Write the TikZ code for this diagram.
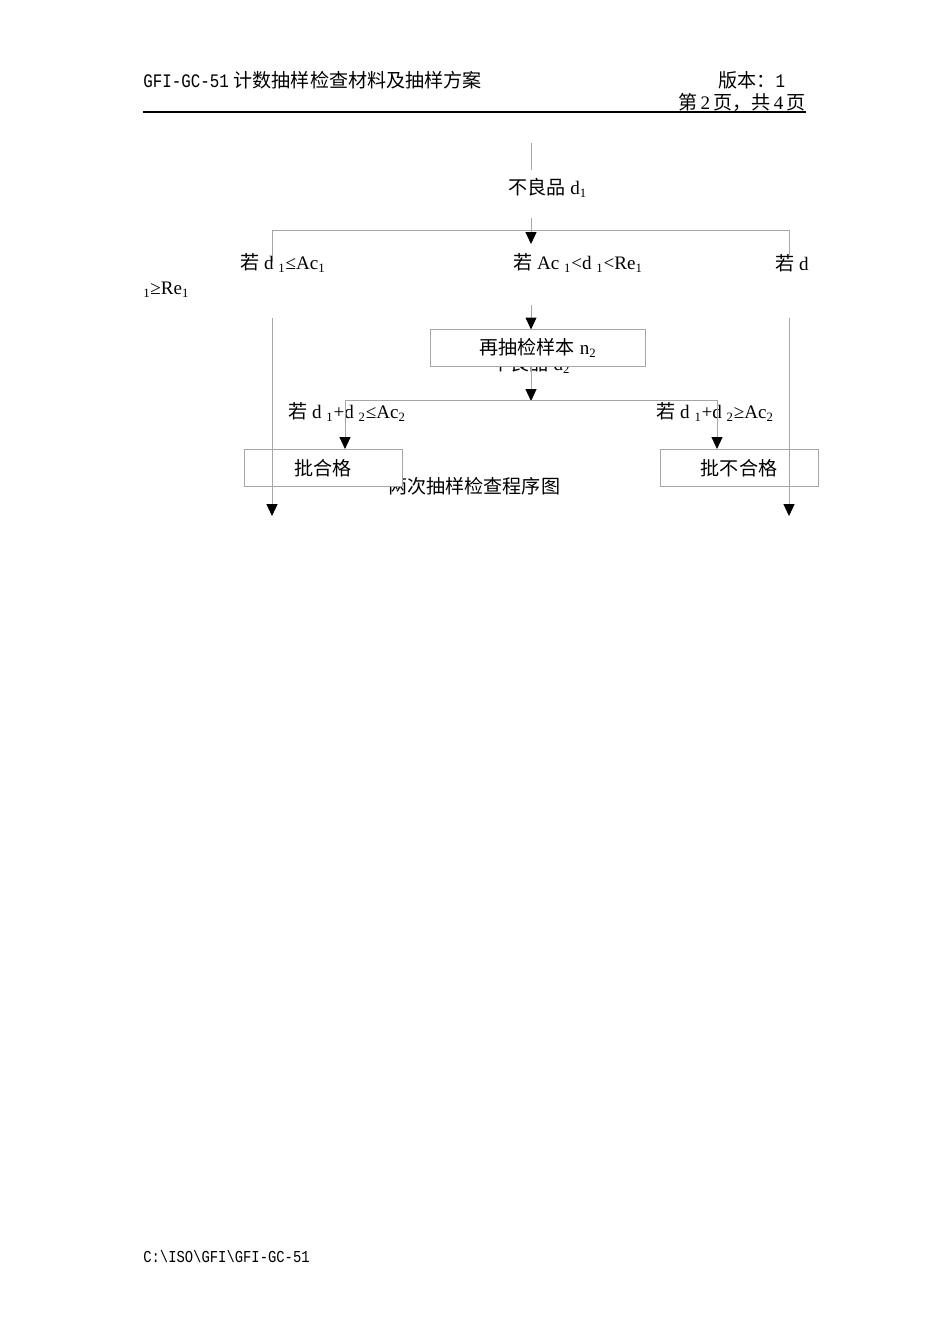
\documentclass[tikz,border=0pt]{standalone}
\usepackage{fontspec}
\setmainfont{Liberation Serif}
\setmonofont[FakeStretch=0.83]{Liberation Mono}
\newfontfamily\cjk{Noto Sans CJK SC}
\usetikzlibrary{arrows.meta, positioning}
\tikzstyle{box} = [rectangle, draw=gray!70, fill=white, line width=0.6pt, inner sep=0pt, font=\fontsize{12}{14}\selectfont]
\tikzstyle{line} = [draw=gray!70, line width=0.5pt]
\tikzstyle{arrow} = [line, -{Triangle[black, length=2.6mm, width=2.4mm]}]
\tikzstyle{txt} = [inner sep=0pt, anchor=west]
\newcommand{\lo}[1]{\textsubscript{#1}}

\begin{document}
\begin{tikzpicture}[x=0.0221cm, y=-0.0221cm, font=\fontsize{12}{14}\selectfont]
    \useasboundingbox (0,0) rectangle (950,1344);
    % header
    \node(title)[txt] at (143,80) {\texttt{GFI-GC-51} {\cjk 计数抽样检查材料及抽样方案}};
    \node(ver)[txt] at (718,80) {{\cjk 版本：}\texttt{1}};
    \node(page)[txt, anchor=east] at (806,102) {{\cjk 第}\,2\,{\cjk 页，共}\,4\,{\cjk 页}};
    \coordinate(hl) at (143,112);
    \coordinate(hr) at (806,112);
    \draw[line width=1.2pt](hl)--(hr);

    % first sample
    \coordinate(top) at (531,143);
    \coordinate(topend) at (531,170);
    \draw[line](top)--(topend);
    \node(d1)[txt] at (508,188) {{\cjk 不良品} d\lo{1}};
    \coordinate(split) at (531,218);
    \coordinate(splitend) at (531,244);
    \coordinate(bl) at (272,230);
    \coordinate(br) at (789,230);
    \draw[line](bl)--(br);
    \draw[line](bl)--++(0,32);
    \draw[line](br)--++(0,25);
    \draw[arrow](split)--(splitend);

    \node(c1)[txt] at (240,263) {{\cjk 若} d \lo{1}≤Ac\lo{1}};
    \node(c2)[txt] at (513,263) {{\cjk 若} Ac \lo{1}<d \lo{1}<Re\lo{1}};
    \node(c3)[txt] at (775,263) {{\cjk 若} d};
    \node(c3b)[txt] at (143,290) {\lo{1}≥Re\lo{1}};

    % second sample
    \node(d2)[txt, anchor=center] at (531,364) {{\cjk 不良品} d\lo{2}};
    \node(n2)[box, minimum width=4.77cm, minimum height=0.8cm] at (538,348) {{\cjk 再抽检样本} n\lo{2}};
    \coordinate(mid) at (531,305);
    \draw[arrow](mid)--(n2.north -| mid);
    \coordinate(fork) at (531,401);
    \draw[arrow](n2.south -| mid)--(fork);
    \coordinate(fl) at (345,400);
    \coordinate(fr) at (717,400);
    \draw[line](fl)--(fr);

    \node(c4)[txt] at (288,412) {{\cjk 若} d \lo{1}+d \lo{2}≤Ac\lo{2}};
    \node(c5)[txt] at (656,412) {{\cjk 若} d \lo{1}+d \lo{2}≥Ac\lo{2}};

    \node(cap)[txt] at (388,486) {\cjk 两次抽样检查程序图};
    \node(ok)[box, minimum width=3.49cm, minimum height=0.82cm] at (323,468) {\cjk 批合格};
    \node(ng)[box, minimum width=3.49cm, minimum height=0.82cm] at (739,468) {\cjk 批不合格};
    \draw[arrow](fl)--(ok.north -| fl);
    \draw[arrow](fr)--(ng.north -| fr);

    % long branches
    \coordinate(ls) at (272,318);
    \coordinate(le) at (272,516);
    \coordinate(rs) at (789,318);
    \coordinate(re) at (789,516);
    \draw[arrow](ls)--(le);
    \draw[arrow](rs)--(re);

    % footer
    \node(foot)[txt, font=\fontsize{10.5}{12}\selectfont] at (143,1257) {\texttt{C:\textbackslash ISO\textbackslash GFI\textbackslash GFI-GC-51}};
\end{tikzpicture}
\end{document}
